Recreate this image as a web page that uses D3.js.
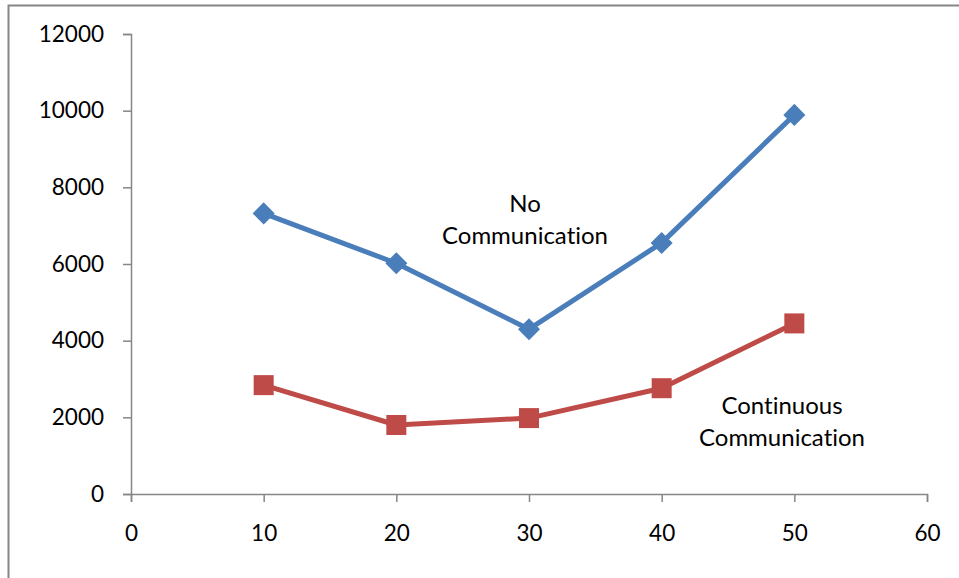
<!DOCTYPE html>
<html>
<head>
<meta charset="utf-8">
<script src="https://cdn.jsdelivr.net/npm/d3@7"></script>
<style>
  html, body { margin: 0; padding: 0; background: #fff; }
  svg { display: block; }
  text { font-family: Lato, "Open Sans", sans-serif; fill: #000; font-variant-ligatures: none; font-feature-settings: "liga" 0, "dlig" 0; }
</style>
</head>
<body>
<svg id="chart" width="959" height="578"></svg>
<script>
// Cost per scenario for each team size
const xValues = [10, 20, 30, 40, 50];
const noCommunication = [7320, 6020, 4300, 6550, 9890];
const continuousCommunication = [2840, 1800, 1980, 2760, 4450];
const xTicks = [0, 10, 20, 30, 40, 50, 60];
const yTicks = [0, 2000, 4000, 6000, 8000, 10000, 12000];
const seriesLabels = [["No", "Communication"], ["Continuous", "Communication"]];

const svg = d3.select("#chart");
const axisColor = "#868686";
const tickFont = 22.5;
const labelFont = 24;

// Outer frame of the chart area
svg.append("rect")
  .attr("x", 8.5).attr("y", 5.5)
  .attr("width", 1000).attr("height", 1000)
  .attr("fill", "none")
  .attr("stroke", axisColor)
  .attr("stroke-width", 2);

const x = d3.scaleLinear().domain([0, 60]).range([131, 927]);
const y = d3.scaleLinear().domain([0, 12000]).range([494, 34]);

// Y axis
const yAxis = svg.append("g")
  .attr("transform", `translate(${x(0)},0)`)
  .call(d3.axisLeft(y).tickValues(yTicks).tickSize(8).tickPadding(19).tickFormat(d3.format("d")));
yAxis.select(".domain").attr("stroke", axisColor).attr("stroke-width", 1.5);
yAxis.selectAll(".tick line").attr("stroke", axisColor).attr("stroke-width", 1.5);
yAxis.selectAll(".tick text").attr("font-size", tickFont).attr("fill", "#000")
  .style("font-family", "Lato, 'Open Sans', sans-serif");

// X axis
const xAxis = svg.append("g")
  .attr("transform", `translate(0,${y(0)})`)
  .call(d3.axisBottom(x).tickValues(xTicks).tickSize(8).tickPadding(23).tickFormat(d3.format("d")));
xAxis.select(".domain").attr("stroke", axisColor).attr("stroke-width", 1.5);
xAxis.selectAll(".tick line").attr("stroke", axisColor).attr("stroke-width", 1.5);
xAxis.selectAll(".tick text").attr("font-size", tickFont).attr("fill", "#000")
  .style("font-family", "Lato, 'Open Sans', sans-serif");

const line = d3.line().x((d, i) => x(xValues[i])).y(d => y(d));

// No Communication series: blue line with diamonds
svg.append("path")
  .datum(noCommunication)
  .attr("d", line)
  .attr("fill", "none")
  .attr("stroke", "#4a7ebb")
  .attr("stroke-width", 5)
  .attr("stroke-linejoin", "round");

svg.selectAll(".diamond")
  .data(noCommunication)
  .enter().append("path")
  .attr("class", "diamond")
  .attr("transform", (d, i) => `translate(${x(xValues[i])},${y(d)}) rotate(45)`)
  .attr("d", "M-7.8,-7.8H7.8V7.8H-7.8Z")
  .attr("fill", "#4a7ebb");

// Continuous Communication series: red line with squares
svg.append("path")
  .datum(continuousCommunication)
  .attr("d", line)
  .attr("fill", "none")
  .attr("stroke", "#be4b48")
  .attr("stroke-width", 5)
  .attr("stroke-linejoin", "round");

svg.selectAll(".square")
  .data(continuousCommunication)
  .enter().append("rect")
  .attr("class", "square")
  .attr("x", (d, i) => x(xValues[i]) - 10)
  .attr("y", d => y(d) - 10)
  .attr("width", 20).attr("height", 20)
  .attr("fill", "#be4b48");

// Series name labels
const labelPos = [{cx: 525, cy: 204}, {cx: 782, cy: 406}];
seriesLabels.forEach((lines, k) => {
  const t = svg.append("text")
    .attr("text-anchor", "middle")
    .attr("font-size", labelFont);
  lines.forEach((s, j) => {
    t.append("tspan")
      .attr("x", labelPos[k].cx)
      .attr("y", labelPos[k].cy + j * 32)
      .attr("dy", "0.35em")
      .text(s);
  });
});
</script>
</body>
</html>
